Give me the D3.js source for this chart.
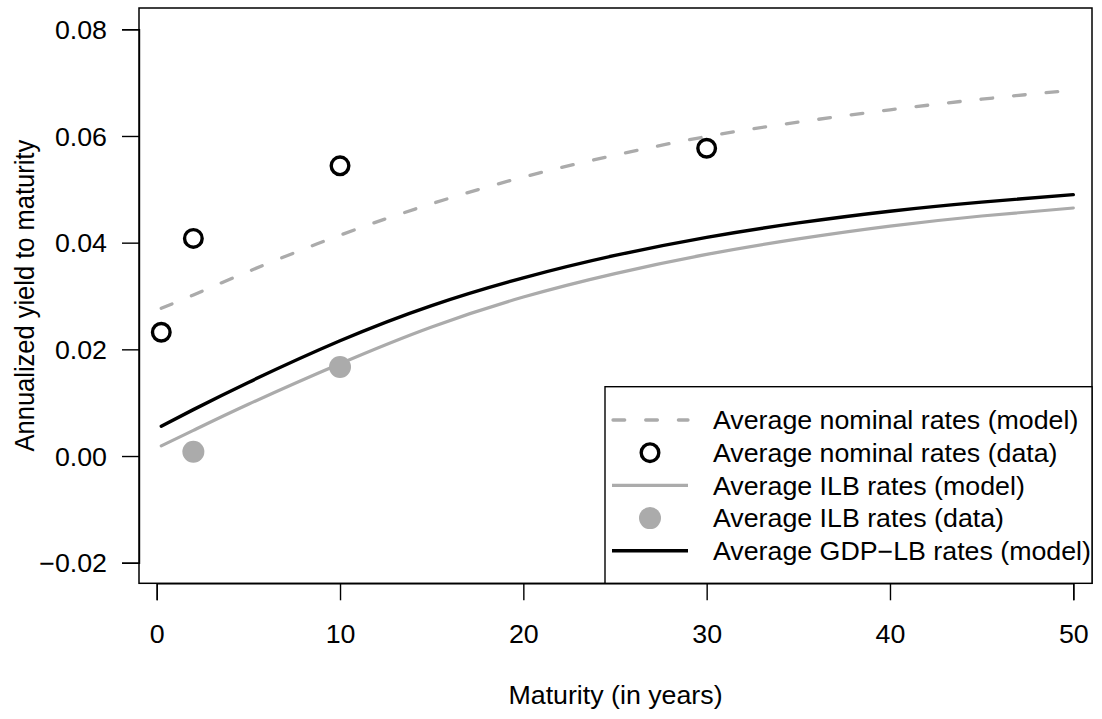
<!DOCTYPE html>
<html><head><meta charset="utf-8">
<script src="https://cdn.jsdelivr.net/npm/d3@7"></script>
<style>body{margin:0;background:#fff}svg{display:block}text{font-family:"Liberation Sans",Arial,Helvetica,sans-serif}</style>
</head><body><svg id="c" width="1102" height="719"></svg>
<script>
// ---- data ----
const maturities = [0.25, 2, 5, 10, 15, 20, 25, 30, 35, 40, 45, 50];
const nominalModel = [0.0277, 0.0302, 0.0346, 0.0414, 0.0473, 0.0523, 0.0564, 0.0599, 0.0626, 0.0649, 0.0669, 0.0686];
const ilbModel     = [0.0019, 0.0048, 0.0097, 0.0173, 0.0242, 0.0298, 0.0342, 0.0378, 0.0407, 0.0431, 0.0450, 0.0465];
const gdpModel     = [0.0056, 0.0087, 0.0138, 0.0216, 0.0282, 0.0334, 0.0376, 0.0410, 0.0437, 0.0459, 0.0476, 0.0490];
const nominalDataX = [0.25, 2, 10, 30];
const nominalDataY = [0.0232, 0.0408, 0.0544, 0.0577];
const ilbDataX = [2, 10];
const ilbDataY = [0.0008, 0.0167];
const xTicks = [0, 10, 20, 30, 40, 50];
const yTicks = [-0.02, 0, 0.02, 0.04, 0.06, 0.08];
const legendLabels = ["Average nominal rates (model)", "Average nominal rates (data)", "Average ILB rates (model)", "Average ILB rates (data)", "Average GDP\u2212LB rates (model)"];
const xTitle = "Maturity (in years)";
const yTitle = "Annualized yield to maturity";

// ---- layout ----
const svg = d3.select("#c");
const box = {l: 139, r: 1092, t: 8, b: 583.3};
const x = d3.scaleLinear().domain([0, 50]).range([156.7, 1073.3]);
const y = d3.scaleLinear().domain([-0.02, 0.08]).range([562.7, 29.3]);
const GREY = "#ababab";
const FS = 25.5, SX = 1.05;

svg.append("rect").attr("width", 1102).attr("height", 719).attr("fill", "#fff");

function stext(g, tx, ty, str, anchor) {
  return g.append("text").attr("transform", `translate(${tx},${ty}) scale(${SX},1)`)
    .attr("text-anchor", anchor).attr("font-size", FS).attr("fill", "#000").text(str);
}

// curves
const line = d3.line().x(d => x(d[0])).y(d => y(d[1])).curve(d3.curveNatural);
const plot = svg.append("g");
plot.append("path").datum(maturities.map((m, i) => [m, nominalModel[i]]))
  .attr("d", line).attr("fill", "none").attr("stroke", GREY).attr("stroke-width", 3.3)
  .attr("stroke-dasharray", "11.7 21").attr("stroke-linecap", "round");
plot.append("path").datum(maturities.map((m, i) => [m, ilbModel[i]]))
  .attr("d", line).attr("fill", "none").attr("stroke", GREY).attr("stroke-width", 3.2).attr("stroke-linecap", "round");
plot.append("path").datum(maturities.map((m, i) => [m, gdpModel[i]]))
  .attr("d", line).attr("fill", "none").attr("stroke", "#000").attr("stroke-width", 3.4).attr("stroke-linecap", "round");

plot.selectAll("circle.nom").data(nominalDataX.map((m, i) => [m, nominalDataY[i]])).enter()
  .append("circle").attr("cx", d => x(d[0])).attr("cy", d => y(d[1])).attr("r", 8.8)
  .attr("fill", "none").attr("stroke", "#000").attr("stroke-width", 3.4);
plot.selectAll("circle.ilb").data(ilbDataX.map((m, i) => [m, ilbDataY[i]])).enter()
  .append("circle").attr("cx", d => x(d[0])).attr("cy", d => y(d[1])).attr("r", 11)
  .attr("fill", GREY);

// axes
const xa = svg.append("g").attr("transform", `translate(0,${box.b})`)
  .call(d3.axisBottom(x).tickValues(xTicks).tickSize(17).tickFormat(d3.format("d")));
const ya = svg.append("g").attr("transform", `translate(${box.l},0)`)
  .call(d3.axisLeft(y).tickValues(yTicks).tickSize(17).tickFormat(d3.format(".2f")));
[xa, ya].forEach(a => {
  a.selectAll("path.domain").attr("stroke", "#000").attr("stroke-width", 1.4);
  a.selectAll(".tick line").attr("stroke", "#000").attr("stroke-width", 1.4);
  a.selectAll(".tick text").remove();
});
xa.selectAll(".tick").each(function(d) { stext(d3.select(this), 0, 60, d3.format("d")(d), "middle"); });
ya.selectAll(".tick").each(function(d) { stext(d3.select(this), -32, 9.2, d3.format(".2f")(d), "end"); });

// plot box
svg.append("rect").attr("x", box.l).attr("y", box.t).attr("width", box.r - box.l).attr("height", box.b - box.t)
  .attr("fill", "none").attr("stroke", "#000").attr("stroke-width", 1.5);

// titles
stext(svg, (box.l + box.r) / 2, 704, xTitle, "middle");
svg.append("text").attr("transform", `translate(33.5,${(box.t + box.b) / 2}) rotate(-90) scale(1,${SX})`)
  .attr("text-anchor", "middle").attr("font-size", FS).text(yTitle);

// legend
const lg = svg.append("g");
lg.append("rect").attr("x", 605).attr("y", 386.7).attr("width", box.r - 605).attr("height", box.b - 386.7)
  .attr("fill", "#fff").attr("stroke", "#000").attr("stroke-width", 1.4);
const rowY = i => 420 + i * 32.7;
legendLabels.forEach((lab, i) => stext(lg, 713, rowY(i) + 9.2, lab, "start"));
lg.append("line").attr("x1", 613).attr("x2", 688).attr("y1", rowY(0)).attr("y2", rowY(0))
  .attr("stroke", GREY).attr("stroke-width", 3.3).attr("stroke-dasharray", "11.7 21").attr("stroke-linecap", "round");
lg.append("circle").attr("cx", 650).attr("cy", rowY(1)).attr("r", 8.8).attr("fill", "none").attr("stroke", "#000").attr("stroke-width", 3.4);
lg.append("line").attr("x1", 612).attr("x2", 688).attr("y1", rowY(2)).attr("y2", rowY(2)).attr("stroke", GREY).attr("stroke-width", 3.2);
lg.append("circle").attr("cx", 650).attr("cy", rowY(3)).attr("r", 11).attr("fill", GREY);
lg.append("line").attr("x1", 612).attr("x2", 688).attr("y1", rowY(4)).attr("y2", rowY(4)).attr("stroke", "#000").attr("stroke-width", 3.4);
</script></body></html>
